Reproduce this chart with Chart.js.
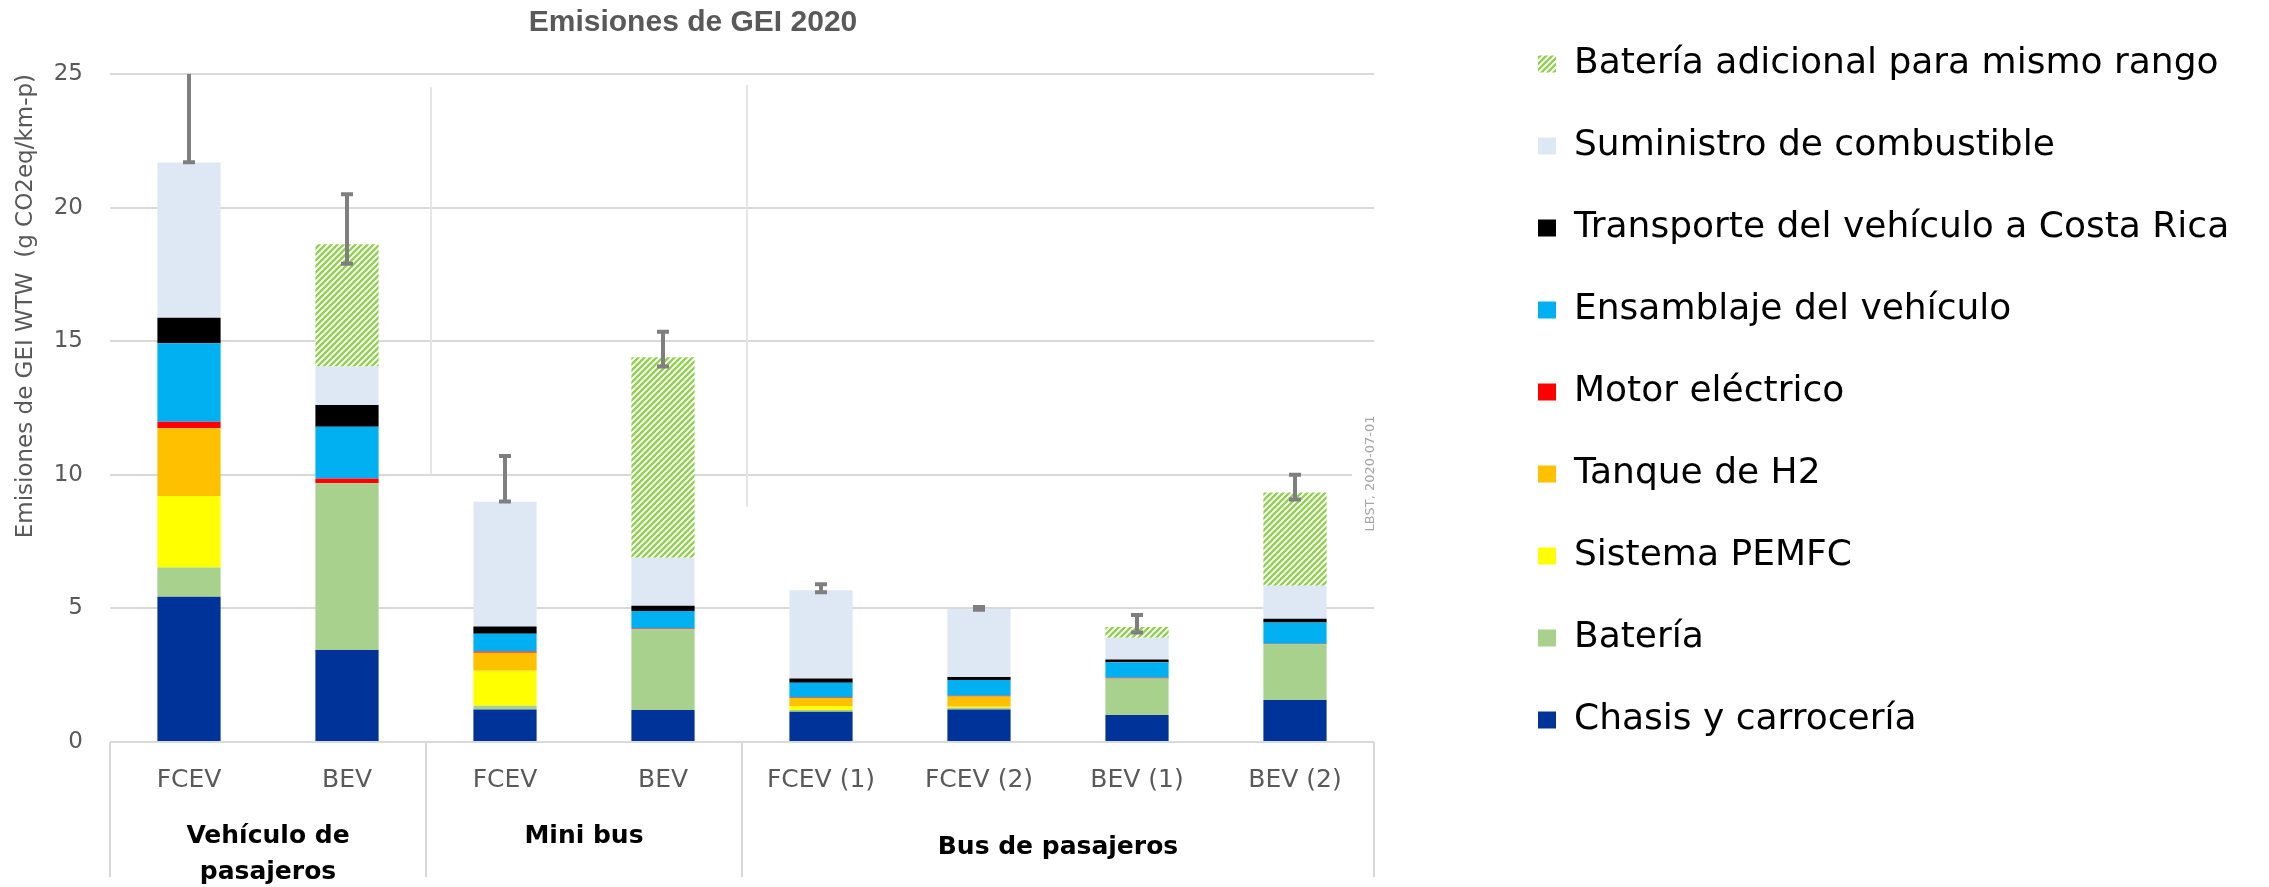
<!DOCTYPE html>
<html>
<head>
<meta charset="utf-8">
<script src="https://cdn.jsdelivr.net/npm/chart.js@4/dist/chart.umd.min.js"></script>
<style>
  html, body { margin: 0; padding: 0; background: #fff; }
</style>
</head>
<body>
<canvas id="gei" width="2269" height="887"></canvas>
<script>
const categories = ['FCEV', 'BEV', 'FCEV', 'BEV', 'FCEV (1)', 'FCEV (2)', 'BEV (1)', 'BEV (2)'];
const groupNames = [['Vehículo de', 'pasajeros'], ['Mini bus'], ['Bus de pasajeros']];
const groupSizes = [2, 2, 4];
const yTicks = [0, 5, 10, 15, 20, 25];

// g CO2eq/km-p
const chasis       = [5.44, 3.44, 1.22, 1.20, 1.13, 1.22, 1.01, 1.57];
const bateria      = [1.09, 6.24, 0.14, 3.02, 0.07, 0.06, 1.37, 2.09];
const pemfc        = [2.68, 0,    1.31, 0,    0.15, 0.04, 0,    0];
const tanqueH2     = [2.53, 0,    0.67, 0,    0.30, 0.38, 0,    0];
const motor        = [0.25, 0.18, 0.05, 0.03, 0.02, 0.03, 0.02, 0.02];
const ensamblaje   = [2.93, 1.94, 0.66, 0.65, 0.55, 0.59, 0.58, 0.79];
const transporte   = [0.96, 0.81, 0.27, 0.20, 0.16, 0.11, 0.11, 0.14];
const suministro   = [5.81, 1.44, 4.67, 1.80, 3.30, 2.55, 0.81, 1.24];
const bateriaExtra = [0,    4.58, 0,    7.50, 0,    0,    0.40, 3.49];

const errLow  = [21.7, 17.9, 9.0, 14.05, 5.6, 4.95, 4.1, 9.08];
const errHigh = [26.0, 20.5, 10.7, 15.35, 5.9, 5.05, 4.75, 10.0];

const FONT = "'DejaVu Sans'";
const GREY = '#595959';

const canvas = document.getElementById('gei');
const ctx = canvas.getContext('2d');

function hatch() {
    const c = document.createElement('canvas');
    c.width = 6;
    c.height = 6;
    const g = c.getContext('2d');
    g.fillStyle = '#fff';
    g.fillRect(0, 0, 6, 6);
    g.strokeStyle = '#92d050';
    g.lineWidth = 2.4;
    g.beginPath();
    g.moveTo(0, 6); g.lineTo(6, 0);
    g.moveTo(-3, 3); g.lineTo(3, -3);
    g.moveTo(3, 9); g.lineTo(9, 3);
    g.stroke();
    return ctx.createPattern(c, 'repeat');
}

const extras = {
    id: 'extras',
    afterLayout(chart) {
        // title sits a little left of the plot centre in the original
        if (chart.titleBlock) chart.titleBlock.left -= 98;
        // the layout caps the legend at a quarter of the width, let its text run to the edge
        const lg = chart.legend;
        if (lg) {
            lg.right = chart.width;
            lg.width = lg.right - lg.left;
        }
    },
    beforeDatasetsDraw(chart) {
        const { ctx, scales: { x, y } } = chart;
        ctx.save();
        ctx.strokeStyle = '#e6e6e6';
        ctx.lineWidth = 2;
        [[1.5, 24.5, 10], [3.5, 24.6, 8.8]].forEach(([b, v0, v1]) => {
            const px = x.getPixelForValue(b) + 5;
            ctx.beginPath();
            ctx.moveTo(px, y.getPixelForValue(v0));
            ctx.lineTo(px, y.getPixelForValue(v1));
            ctx.stroke();
        });
        ctx.restore();
    },
    afterDatasetsDraw(chart) {
        const { ctx, chartArea: a, scales: { x, y } } = chart;
        ctx.save();
        ctx.beginPath();
        ctx.rect(a.left, a.top, a.right - a.left, a.bottom - a.top);
        ctx.clip();
        ctx.strokeStyle = '#7f7f7f';
        ctx.lineWidth = 4;
        categories.forEach((c, i) => {
            const px = x.getPixelForValue(i);
            const y0 = y.getPixelForValue(errLow[i]);
            const y1 = y.getPixelForValue(errHigh[i]);
            ctx.beginPath();
            ctx.moveTo(px, y0); ctx.lineTo(px, y1);
            ctx.moveTo(px - 6, y0); ctx.lineTo(px + 6, y0);
            ctx.moveTo(px - 6, y1); ctx.lineTo(px + 6, y1);
            ctx.stroke();
        });
        ctx.restore();
    },
    afterDraw(chart) {
        const { ctx, chartArea: a, scales: { x, y } } = chart;
        ctx.save();

        // group separators under the axis
        ctx.strokeStyle = '#d9d9d9';
        ctx.lineWidth = 2;
        let start = 0;
        [0, ...groupSizes].forEach(n => {
            start += n;
            const px = x.getPixelForValue(start - 0.5);
            ctx.beginPath();
            ctx.moveTo(px, a.bottom);
            ctx.lineTo(px, a.bottom + 135);
            ctx.stroke();
        });

        // group labels
        const dy = [94, 94, 105];
        ctx.font = `bold 25px ${FONT}`;
        ctx.fillStyle = '#000';
        ctx.textAlign = 'center';
        ctx.textBaseline = 'middle';
        start = 0;
        groupNames.forEach((lines, g) => {
            const cx = x.getPixelForValue(start + (groupSizes[g] - 1) / 2);
            lines.forEach((line, k) => ctx.fillText(line, cx, a.bottom + dy[g] + k * 36));
            start += groupSizes[g];
        });

        // source stamp
        const sy = y.getPixelForValue(10.05);
        ctx.fillStyle = '#fff';
        ctx.fillRect(a.right - 22, sy - 56, 30, 112);
        ctx.translate(a.right - 3, sy);
        ctx.rotate(-Math.PI / 2);
        ctx.font = `13px ${FONT}`;
        ctx.fillStyle = '#a6a6a6';
        ctx.fillText('LBST, 2020-07-01', 0, 0);
        ctx.restore();
    }
};

const series = [
    ['Chasis y carrocería', chasis, '#003399'],
    ['Batería', bateria, '#a9d18e'],
    ['Sistema PEMFC', pemfc, '#ffff00'],
    ['Tanque de H2', tanqueH2, '#ffc000'],
    ['Motor eléctrico', motor, '#ff0000'],
    ['Ensamblaje del vehículo', ensamblaje, '#00b0f0'],
    ['Transporte del vehículo a Costa Rica', transporte, '#000000'],
    ['Suministro de combustible', suministro, '#dee8f4'],
    ['Batería adicional para mismo rango', bateriaExtra, hatch()]
];

// eslint-disable-next-line no-unused-vars
const geiChart = new Chart(canvas, {
    type: 'bar',
    data: {
        labels: categories,
        datasets: series.map(([label, data, color]) => ({
            label,
            data,
            backgroundColor: color,
            borderWidth: 0,
            barPercentage: 0.5,
            categoryPercentage: 0.8
        }))
    },
    options: {
        responsive: false,
        animation: false,
        layout: { padding: { top: 0, right: 527, bottom: 0, left: 0 } },
        scales: {
            x: {
                stacked: true,
                grid: { display: false },
                border: { display: false },
                ticks: {
                    color: GREY,
                    font: { family: FONT, size: 25 },
                    padding: 15,
                    maxRotation: 0,
                    autoSkip: false
                },
                afterFit(s) { s.height = 145; }
            },
            y: {
                stacked: true,
                min: 0,
                max: 25,
                afterBuildTicks(s) { s.ticks = yTicks.map(v => ({ value: v })); },
                grid: { color: '#d9d9d9', lineWidth: 2, drawTicks: false },
                border: { display: false },
                ticks: {
                    color: GREY,
                    font: { family: FONT, size: 23 },
                    padding: 27
                },
                title: {
                    display: true,
                    align: 'end',
                    text: 'Emisiones de GEI WTW  (g CO2eq/km-p)',
                    color: GREY,
                    font: { family: FONT, size: 23 },
                    padding: { top: 12, bottom: 0 }
                },
                afterFit(s) { s.width = 110; }
            },
            gap: {
                position: 'right',
                grid: { display: false },
                border: { display: false },
                ticks: { display: false },
                afterFit(s) { s.width = 118; }
            }
        },
        plugins: {
            title: {
                display: true,
                fullSize: false,
                text: 'Emisiones de GEI 2020',
                color: GREY,
                font: { family: "'Liberation Sans'", size: 30, weight: 'bold' },
                padding: { top: 5, bottom: 33 }
            },
            legend: {
                position: 'right',
                align: 'start',
                reverse: true,
                maxWidth: 250,
                labels: {
                    boxWidth: 18,
                    boxHeight: 17,
                    padding: 46,
                    color: '#000',
                    font: { family: FONT, size: 36 }
                }
            },
            tooltip: { enabled: false }
        }
    },
    plugins: [extras]
});
</script>
</body>
</html>
